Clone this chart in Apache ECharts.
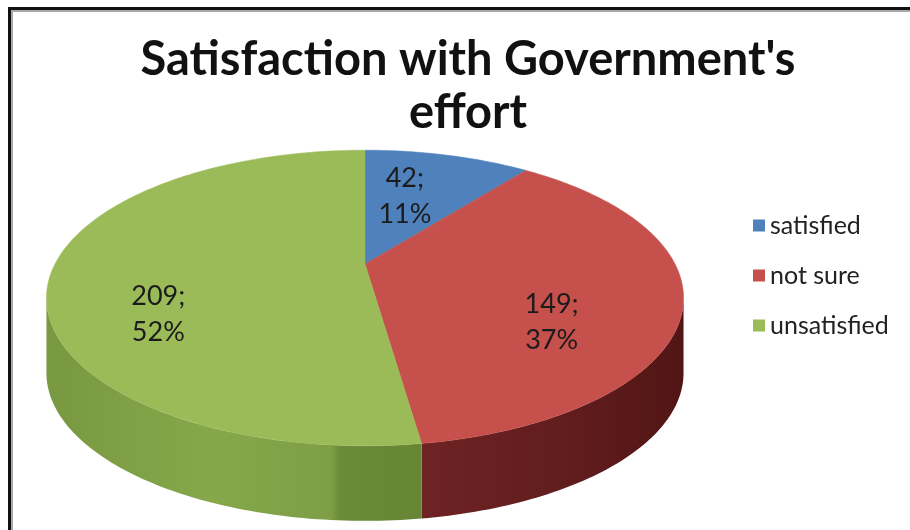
<!DOCTYPE html>
<html>
<head>
<meta charset="utf-8">
<script src="https://cdn.jsdelivr.net/npm/echarts@6/dist/echarts.min.js"></script>
<style>
  html, body { margin: 0; padding: 0; background: #ffffff; }
  #chart { width: 910px; height: 530px; }
</style>
</head>
<body>
<div id="chart"></div>
<script>
// Survey answers
const categories = ['satisfied', 'not sure', 'unsatisfied'];
const counts = [42, 149, 209];
const titleText = "Satisfaction with Government's\neffort";

// Slice colours: top face and shaded side wall
const topColors = ['#4f81bd', '#c5504c', '#9bbb59'];
const sideStops = [
  [[0, '#2f5282'], [1, '#233f66']],
  [[0, '#6e2324'], [0.6, '#601c1c'], [1, '#521515']],
  [[0, '#789841'], [0.45, '#86a84b'], [0.76, '#7d9e45'], [0.78, '#6b8b39'], [1, '#668535']]
];
// Label nudges in pixels (dx, dy)
const labelNudge = [[-24, -15], [-4, 1], [-10, 10]];

const FONT = 'Lato, "Open Sans", sans-serif';
const K = 0.23;          // perspective: far edge shrinks, near edge grows
const DEPTH = 0.536;     // height of the side wall, in y-axis units
const TWO_PI = Math.PI * 2;
const total = counts.reduce((a, b) => a + b, 0);

function proj(theta, r) {
  const s = Math.sin(theta), c = Math.cos(theta);
  const d = 1 + K * r * c;
  return [r * s / d, r * c / d];
}

function arcPoints(api, a, b, dy) {
  const pts = [];
  const steps = Math.max(2, Math.ceil((b - a) / (Math.PI / 180)));
  for (let i = 0; i <= steps; i++) {
    const t = a + (b - a) * i / steps;
    const p = proj(t, 1);
    pts.push(api.coord([p[0], p[1] - dy]));
  }
  return pts;
}

function makeRenderItem(idx) {
  return function (params, api) {
    const value = api.value(1);
    let before = 0;
    for (let i = 0; i < idx; i++) before += counts[i];
    const a = before / total * TWO_PI;
    const b = a + value / total * TWO_PI;
    const children = [];

    // side wall: only the part facing the viewer
    const t1 = Math.acos(-K), t2 = TWO_PI - Math.acos(-K);
    const lo = Math.max(a, t1), hi = Math.min(b, t2);
    if (lo < hi) {
      const topEdge = arcPoints(api, lo, hi, 0);
      const botEdge = arcPoints(api, lo, hi, DEPTH).reverse();
      children.push({
        type: 'polygon',
        z2: 1,
        shape: { points: topEdge.concat(botEdge) },
        style: {
          fill: {
            type: 'linear', x: 0, y: 0, x2: 1, y2: 0,
            colorStops: sideStops[idx].map(s => ({ offset: s[0], color: s[1] }))
          },
          stroke: null
        }
      });
    }

    // top face
    const center = api.coord([0, 0]);
    const face = [center].concat(arcPoints(api, a, b, 0));
    children.push({
      type: 'polygon',
      z2: 2,
      shape: { points: face },
      style: { fill: topColors[idx], stroke: topColors[idx], lineWidth: 0.5 }
    });

    // value label
    const mid = (a + b) / 2;
    const r = 0.62;
    const lp = api.coord([1.026 * r * Math.sin(mid), -0.243 + 1.057 * r * Math.cos(mid)]);
    const pct = Math.round(value / total * 100);
    children.push({
      type: 'text',
      z2: 3,
      x: lp[0] + labelNudge[idx][0],
      y: lp[1] + labelNudge[idx][1],
      style: {
        text: value + ';\n' + pct + '%',
        font: '27px ' + FONT,
        fill: '#1b1b1b',
        align: 'center',
        verticalAlign: 'middle',
        lineHeight: 36
      }
    });
    return { type: 'group', children: children };
  };
}

const chart = echarts.init(document.getElementById('chart'), null, { renderer: 'canvas' });
chart.setOption({
  animation: false,
  backgroundColor: '#ffffff',
  title: {
    text: titleText,
    left: 463,
    top: 28,
    textAlign: 'center',
    textStyle: {
      fontFamily: FONT,
      fontWeight: 'bold',
      fontSize: 47,
      lineHeight: 53,
      color: '#111111'
    }
  },
  legend: {
    data: categories,
    orient: 'vertical',
    left: 748,
    top: 208,
    icon: 'rect',
    itemWidth: 12,
    itemHeight: 12,
    itemGap: 25,
    textStyle: { fontFamily: FONT, fontSize: 25, color: '#222222' }
  },
  grid: { left: 55, width: 620, top: 124, height: 280 },
  xAxis: { type: 'value', min: -1, max: 1, show: false },
  yAxis: { type: 'value', min: -1, max: 1, show: false },
  series: categories.map((name, i) => ({
    type: 'custom',
    name: name,
    clip: false,
    itemStyle: { color: topColors[i] },
    encode: { x: 0, y: 1 },
    data: [[i, counts[i]]],
    renderItem: makeRenderItem(i)
  })),
  graphic: [
    {
      type: 'polyline',
      shape: { points: [[12, 530], [12, 11], [910, 11]] },
      style: { stroke: '#a8a8a8', lineWidth: 2, fill: null },
      silent: true
    },
    {
      type: 'polyline',
      shape: { points: [[9.5, 530], [9.5, 8.5], [910, 8.5]] },
      style: { stroke: '#111111', lineWidth: 3, fill: null },
      silent: true
    }
  ]
});
</script>
</body>
</html>
